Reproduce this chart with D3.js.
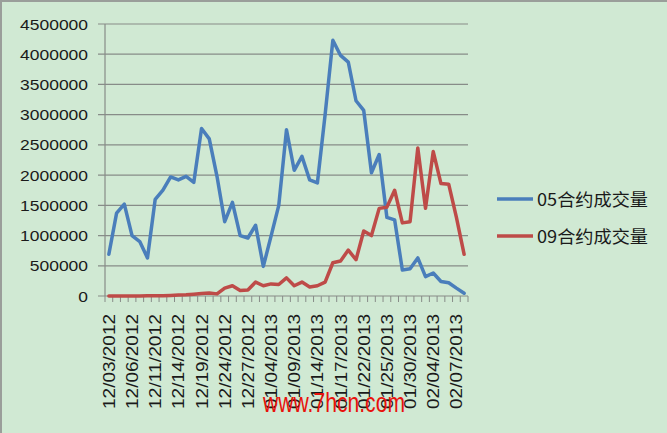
<!DOCTYPE html>
<html><head><meta charset="utf-8">
<script src="https://cdn.jsdelivr.net/npm/d3@7"></script>
<style>
html,body{margin:0;padding:0;background:#d0e9d3;}
svg{display:block;}
</style></head>
<body>
<svg id="chart" width="667" height="433"></svg>
<script>
const dates = ["12/03/2012","12/04/2012","12/05/2012","12/06/2012","12/07/2012","12/10/2012","12/11/2012","12/12/2012","12/13/2012","12/14/2012",
"12/17/2012","12/18/2012","12/19/2012","12/20/2012","12/21/2012","12/24/2012","12/25/2012","12/26/2012","12/27/2012","12/28/2012","12/31/2012",
"01/04/2013","01/07/2013","01/08/2013","01/09/2013","01/10/2013","01/11/2013","01/14/2013","01/15/2013","01/16/2013","01/17/2013","01/18/2013",
"01/21/2013","01/22/2013","01/23/2013","01/24/2013","01/25/2013","01/28/2013","01/29/2013","01/30/2013","01/31/2013","02/01/2013",
"02/04/2013","02/05/2013","02/06/2013","02/07/2013","02/08/2013"];
const tickLabels = ["12/03/2012","12/06/2012","12/11/2012","12/14/2012","12/19/2012","12/24/2012","12/27/2012","01/04/2013",
"01/09/2013","01/14/2013","01/17/2013","01/22/2013","01/25/2013","01/30/2013","02/04/2013","02/07/2013"];
const seriesNames = ["05合约成交量","09合约成交量"];
const vol05 = [690000,1370000,1520000,1000000,900000,630000,1600000,1750000,1970000,1920000,
1980000,1880000,2770000,2600000,1980000,1230000,1550000,1000000,960000,1170000,490000,
990000,1500000,2750000,2080000,2310000,1920000,1870000,3000000,4230000,3980000,3870000,
3230000,3070000,2040000,2340000,1300000,1260000,430000,450000,630000,320000,
380000,240000,220000,130000,45000];
const vol09 = [0,0,0,0,0,5000,5000,5000,10000,15000,
20000,30000,40000,50000,35000,130000,170000,90000,100000,230000,170000,
200000,190000,300000,170000,230000,150000,170000,230000,550000,580000,760000,
600000,1075000,1000000,1450000,1470000,1750000,1210000,1230000,2450000,1450000,
2390000,1860000,1850000,1300000,690000];
const yTicks = [0,500000,1000000,1500000,2000000,2500000,3000000,3500000,4000000,4500000];
const colors = ["#4a7ebb","#be4b48"];

const svg = d3.select("#chart");
const W = 667, H = 433;
svg.append("rect").attr("x",1).attr("y",1).attr("width",W+10).attr("height",H+10)
  .attr("fill","#d0e9d3").attr("stroke","#9a9e9a").attr("stroke-width",2);

const pLeft = 105, pRight = 468, pTop = 24, pBottom = 296;
const x = d3.scaleBand().domain(dates).range([pLeft,pRight]).padding(0);
const y = d3.scaleLinear().domain([0,4500000]).range([pBottom,pTop]);
const cx = d => x(d) + x.bandwidth()/2;

// gridlines
svg.append("g").selectAll("line").data(yTicks).join("line")
  .attr("x1",pLeft-7).attr("x2",pRight).attr("y1",d=>y(d)).attr("y2",d=>y(d))
  .attr("stroke","#878c88").attr("stroke-width",1.2);
// y axis line
svg.append("line").attr("x1",pLeft).attr("x2",pLeft).attr("y1",pTop).attr("y2",pBottom)
  .attr("stroke","#878c88").attr("stroke-width",1.2);
// y labels
svg.append("g").selectAll("text").data(yTicks).join("text")
  .attr("x",88).attr("y",d=>y(d)+5.5).attr("text-anchor","end")
  .attr("font-family","Liberation Sans, Arial, sans-serif").attr("font-size",14.5)
  .attr("fill","#1a1a1a")
  .attr("textLength",d=>String(d).length*9.7).attr("lengthAdjust","spacingAndGlyphs")
  .text(d=>d);
// x ticks at band boundaries
const bounds = dates.map(d=>x(d)).concat([pRight]);
svg.append("g").selectAll("line").data(bounds).join("line")
  .attr("x1",d=>d).attr("x2",d=>d).attr("y1",pBottom).attr("y2",pBottom+6)
  .attr("stroke","#878c88").attr("stroke-width",1);
// x labels
svg.append("g").selectAll("text").data(tickLabels).join("text")
  .attr("transform",d=>`translate(${cx(d)+6},314) rotate(-90)`)
  .attr("text-anchor","end")
  .attr("font-family","Liberation Sans, Arial, sans-serif").attr("font-size",16)
  .attr("fill","#1a1a1a")
  .attr("textLength",95).attr("lengthAdjust","spacingAndGlyphs")
  .text(d=>d);

// lines
const line = d3.line().x((d,i)=>cx(dates[i])).y(d=>y(d));
[vol05, vol09].forEach((s,k)=>{
  svg.append("path").datum(s).attr("d",line).attr("fill","none")
    .attr("stroke",colors[k]).attr("stroke-width",3.5)
    .attr("stroke-linejoin","round").attr("stroke-linecap","round");
});

// legend
const lg = svg.append("g");
seriesNames.forEach((n,k)=>{
  const ly = 199 + k*37;
  lg.append("line").attr("x1",497).attr("x2",533).attr("y1",ly).attr("y2",ly)
    .attr("stroke",colors[k]).attr("stroke-width",3.5);
  lg.append("text").attr("x",537).attr("y",ly+6.5)
    .attr("font-family","Noto Sans CJK SC, sans-serif").attr("font-size",17)
    .attr("fill","#1a1a1a")
    .attr("textLength",111).attr("lengthAdjust","spacingAndGlyphs")
    .text(n);
});

// watermark
svg.append("text").attr("x",263).attr("y",412)
  .attr("font-family","Liberation Sans, Arial, sans-serif").attr("font-size",28)
  .attr("fill","#e8120c")
  .attr("textLength",142).attr("lengthAdjust","spacingAndGlyphs")
  .text("www.7hcn.com");
</script>
</body></html>
